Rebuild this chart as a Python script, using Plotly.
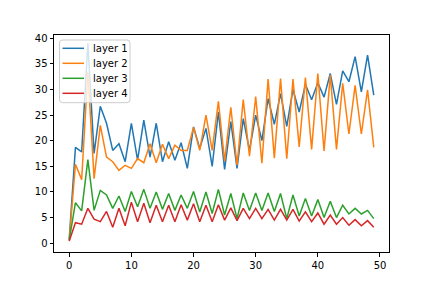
import plotly.graph_objects as go

x = list(range(50))

layer1 = [0.8, 18.7, 17.8, 39.0, 17.5, 26.7, 23.4, 18.1, 19.4, 15.9,
          23.4, 16.2, 24.0, 16.8, 23.4, 15.9, 19.8, 16.2, 19.6, 14.6,
          22.7, 18.5, 22.4, 15.0, 25.6, 14.4, 23.7, 14.6, 24.3, 18.1,
          25.0, 20.0, 28.2, 23.2, 29.2, 22.8, 30.0, 25.6, 31.0, 28.0,
          31.3, 28.5, 33.1, 27.1, 33.6, 31.5, 36.4, 29.5, 36.7, 28.9]
layer2 = [0.5, 15.4, 12.4, 33.5, 12.6, 23.0, 16.8, 15.9, 14.2, 15.2,
          14.6, 16.5, 15.7, 19.4, 15.7, 19.3, 16.5, 19.1, 18.1, 18.1,
          22.6, 18.1, 25.0, 18.1, 27.7, 16.0, 26.5, 15.2, 28.0, 17.0,
          28.6, 15.6, 32.0, 16.6, 32.1, 16.5, 32.0, 18.8, 32.3, 18.3,
          33.1, 18.0, 32.8, 18.3, 31.2, 21.3, 30.8, 21.3, 29.9, 18.7]
layer3 = [0.6, 7.9, 6.3, 16.3, 6.4, 10.3, 9.4, 6.8, 9.2, 6.2,
          10.1, 7.1, 10.5, 6.8, 10.0, 6.6, 9.7, 6.4, 9.4, 6.8,
          10.1, 6.1, 10.0, 5.8, 10.5, 5.5, 9.7, 4.8, 9.8, 6.4,
          9.8, 6.4, 9.8, 6.2, 9.7, 4.8, 9.4, 5.3, 8.7, 5.3,
          8.5, 5.0, 8.2, 5.0, 7.4, 5.7, 6.8, 5.7, 6.4, 4.8]
layer4 = [0.4, 4.0, 3.7, 6.8, 4.7, 4.2, 6.2, 3.1, 6.8, 3.4,
          8.0, 4.2, 7.8, 4.0, 7.4, 4.2, 7.4, 4.2, 7.5, 4.5,
          7.7, 4.2, 7.4, 4.2, 7.5, 4.5, 6.9, 4.4, 6.8, 4.8,
          6.8, 4.8, 6.6, 4.5, 6.6, 4.5, 6.6, 4.3, 6.1, 4.2,
          5.9, 3.7, 5.5, 3.7, 5.0, 3.5, 4.6, 3.4, 4.4, 3.1]

names = ["layer 1", "layer 2", "layer 3", "layer 4"]
series = [layer1, layer2, layer3, layer4]
colors = ["#1f77b4", "#ff7f0e", "#2ca02c", "#d62728"]

W, H = 432, 288
ML, MR, MT, MB = 54, 43, 35, 36
PW, PH = W - ML - MR, H - MT - MB

def px_x(p):
    return (p - ML) / PW

def px_y(p):
    return (H - MB - p) / PH

fig = go.Figure()
for n, s, c in zip(names, series, colors):
    fig.add_trace(go.Scatter(x=x, y=s, mode="lines", name=n,
                             line=dict(color=c, width=1.5), showlegend=False))

# legend drawn as a matplotlib-style box
bx0, bx1, by0, by1, r = 59.5, 130.0, 40.0, 102.7, 3.0
x0, x1 = px_x(bx0), px_x(bx1)
y0, y1 = px_y(by0), px_y(by1)
rx, ry = r / PW, r / PH
path = (f"M {x0+rx},{y0} L {x1-rx},{y0} Q {x1},{y0} {x1},{y0-ry} "
        f"L {x1},{y1+ry} Q {x1},{y1} {x1-rx},{y1} L {x0+rx},{y1} "
        f"Q {x0},{y1} {x0},{y1+ry} L {x0},{y0-ry} Q {x0},{y0} {x0+rx},{y0} Z")
shapes = [dict(type="path", xref="paper", yref="paper", path=path,
               fillcolor="rgba(255,255,255,0.8)", line=dict(color="#cccccc", width=1),
               layer="above")]
annotations = []
row_y = [48.3, 63.3, 78.3, 93.3]
for n, c, ry_ in zip(names, colors, row_y):
    shapes.append(dict(type="line", xref="paper", yref="paper",
                       x0=px_x(62.5), x1=px_x(84.0), y0=px_y(ry_), y1=px_y(ry_),
                       line=dict(color=c, width=1.5), layer="above"))
    annotations.append(dict(xref="paper", yref="paper", x=px_x(91.0), y=px_y(ry_),
                            xanchor="left", yanchor="middle", showarrow=False,
                            text=n, font=dict(family="DejaVu Sans", size=10, color="black")))

axis_common = dict(showline=True, linecolor="black", linewidth=1, mirror=True,
                   showgrid=False, zeroline=False, ticks="outside", ticklen=3.5,
                   tickwidth=1, tickcolor="black",
                   tickfont=dict(family="DejaVu Sans", size=10, color="black"))

fig.update_layout(
    width=W, height=H,
    margin=dict(l=ML, r=MR, t=MT, b=MB),
    paper_bgcolor="white", plot_bgcolor="white",
    xaxis=dict(range=[-2.45, 51.45], tickvals=[0, 10, 20, 30, 40, 50], **axis_common),
    yaxis=dict(range=[-1.72, 40.62], tickvals=[0, 5, 10, 15, 20, 25, 30, 35, 40], **axis_common),
    shapes=shapes, annotations=annotations,
    showlegend=False,
)

fig.write_html("out.html", config={"displayModeBar": False},
               post_script="document.body.style.margin='0';")
